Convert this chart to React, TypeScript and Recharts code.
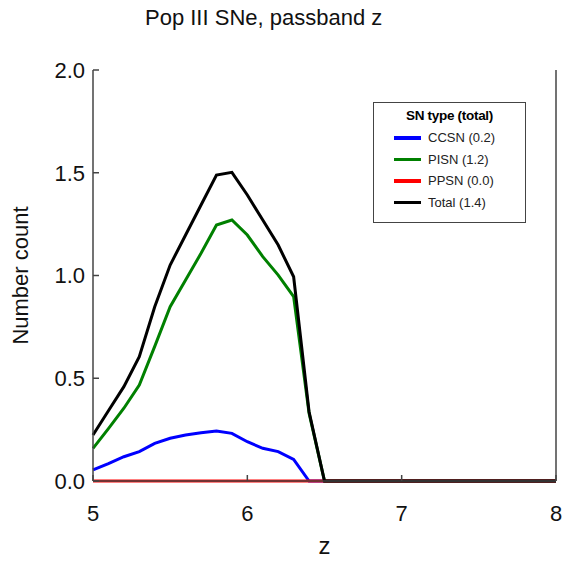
import { Legend, Line, LineChart, XAxis, YAxis } from "recharts";

const redshift = [
  5.0, 5.1, 5.2, 5.3, 5.4, 5.5, 5.6, 5.7, 5.8, 5.9, 6.0, 6.1, 6.2, 6.3, 6.4,
  6.5, 6.6, 6.7, 6.8, 6.9, 7.0, 7.1, 7.2, 7.3, 7.4, 7.5, 7.6, 7.7, 7.8, 7.9,
  8.0,
];
const ccsn = [
  0.054, 0.085, 0.118, 0.143, 0.183, 0.208, 0.224, 0.235, 0.243, 0.232, 0.191,
  0.159, 0.143, 0.105, 0, 0, 0, 0, 0, 0, 0, 0, 0, 0, 0, 0, 0, 0, 0, 0, 0,
];
const pisn = [
  0.159, 0.255, 0.354, 0.467, 0.655, 0.848, 0.978, 1.108, 1.246, 1.27, 1.197,
  1.092, 1.002, 0.897, 0.33, 0, 0, 0, 0, 0, 0, 0, 0, 0, 0, 0, 0, 0, 0, 0, 0,
];
const ppsn = [
  0, 0, 0, 0, 0, 0, 0, 0, 0, 0, 0, 0, 0, 0, 0, 0, 0, 0, 0, 0, 0, 0, 0, 0, 0,
  0, 0, 0, 0, 0, 0,
];
const total = [
  0.224, 0.342, 0.459, 0.605, 0.848, 1.051, 1.197, 1.343, 1.489, 1.502, 1.392,
  1.27, 1.148, 0.994, 0.337, 0, 0, 0, 0, 0, 0, 0, 0, 0, 0, 0, 0, 0, 0, 0, 0,
];
const xTicks = [5, 6, 7, 8];
const yTicks = [0, 0.5, 1.0, 1.5, 2.0];

const series = [
  { key: "ccsn", name: "CCSN (0.2)", color: "#0000ff" },
  { key: "pisn", name: "PISN (1.2)", color: "#008000" },
  { key: "ppsn", name: "PPSN (0.0)", color: "#ff0000" },
  { key: "total", name: "Total (1.4)", color: "#000000" },
];

const data = redshift.map((z, i) => ({
  z,
  ccsn: ccsn[i],
  pisn: pisn[i],
  ppsn: ppsn[i],
  total: total[i],
}));

const FONT = "'Liberation Sans', Arial, sans-serif";
const AXIS = "#444";

function LegendBox({ payload }: any) {
  return (
    <div
      style={{
        border: "1.5px solid #444",
        background: "#fff",
        padding: "5px 0 6px 20px",
        fontFamily: FONT,
        boxSizing: "border-box",
        width: 153,
        height: 121,
      }}
    >
      <div
        style={{
          fontWeight: "bold",
          fontSize: 13.5,
          textAlign: "center",
          marginLeft: -20,
          marginBottom: 4,
          letterSpacing: -0.3,
        }}
      >
        SN type (total)
      </div>
      {(payload || []).map((p: any) => (
        <div
          key={p.value}
          style={{ display: "flex", alignItems: "center", height: 21.5, fontSize: 13 }}
        >
          <span
            style={{
              display: "inline-block",
              width: 27,
              height: 3.5,
              background: p.color,
              marginRight: 7,
            }}
          />
          <span style={{ color: "#222" }}>{p.value}</span>
        </div>
      ))}
    </div>
  );
}

export default function App() {
  return (
    <div style={{ position: "absolute", left: 0, top: 0, width: 563, height: 562, background: "#fff" }}>
      <LineChart
        width={563}
        height={562}
        data={data}
        margin={{ top: 70, right: 0, left: 0, bottom: 0 }}
        style={{ fontFamily: FONT }}
      >
        <text x={145} y={25} fontSize={22} fill="#111" fontFamily={FONT}>
          Pop III SNe, passband z
        </text>
        <XAxis
          dataKey="z"
          type="number"
          domain={[5, 8]}
          ticks={xTicks}
          height={81}
          stroke={AXIS}
          strokeWidth={1.5}
          tickSize={-6}
          tickMargin={30}
          tick={{ fontSize: 22, fill: "#111" }}
          tickFormatter={(v) => String(v)}
          label={{ value: "z", position: "insideBottom", offset: 8, fontSize: 24, fill: "#111" }}
        />
        <XAxis
          xAxisId="top"
          dataKey="z"
          type="number"
          orientation="top"
          domain={[5, 8]}
          ticks={xTicks}
          height={0}
          stroke={AXIS}
          strokeWidth={1.5}
          tickSize={-6}
          tick={false}
        />
        <YAxis
          type="number"
          domain={[0, 2]}
          ticks={yTicks}
          width={93}
          stroke={AXIS}
          strokeWidth={1.5}
          tickSize={-6}
          tickMargin={14}
          tick={{ fontSize: 22, fill: "#111" }}
          tickFormatter={(v: number) => v.toFixed(1)}
          label={{
            value: "Number count",
            angle: -90,
            position: "insideLeft",
            offset: 20,
            fontSize: 22,
            fill: "#111",
            style: { textAnchor: "middle" },
          }}
        />
        <YAxis
          yAxisId="right"
          orientation="right"
          type="number"
          domain={[0, 2]}
          ticks={yTicks}
          width={7}
          stroke={AXIS}
          strokeWidth={1.5}
          tickSize={-6}
          tick={false}
        />
        <Legend
          layout="horizontal"
          verticalAlign="middle"
          align="center"
          wrapperStyle={{ left: 373, top: 102, width: 153 }}
          content={<LegendBox />}
        />
        {series.map((s) => (
          <Line
            key={s.key}
            type="linear"
            dataKey={s.key}
            name={s.name}
            stroke={s.color}
            strokeWidth={3}
            dot={false}
            isAnimationActive={false}
          />
        ))}
      </LineChart>
    </div>
  );
}
